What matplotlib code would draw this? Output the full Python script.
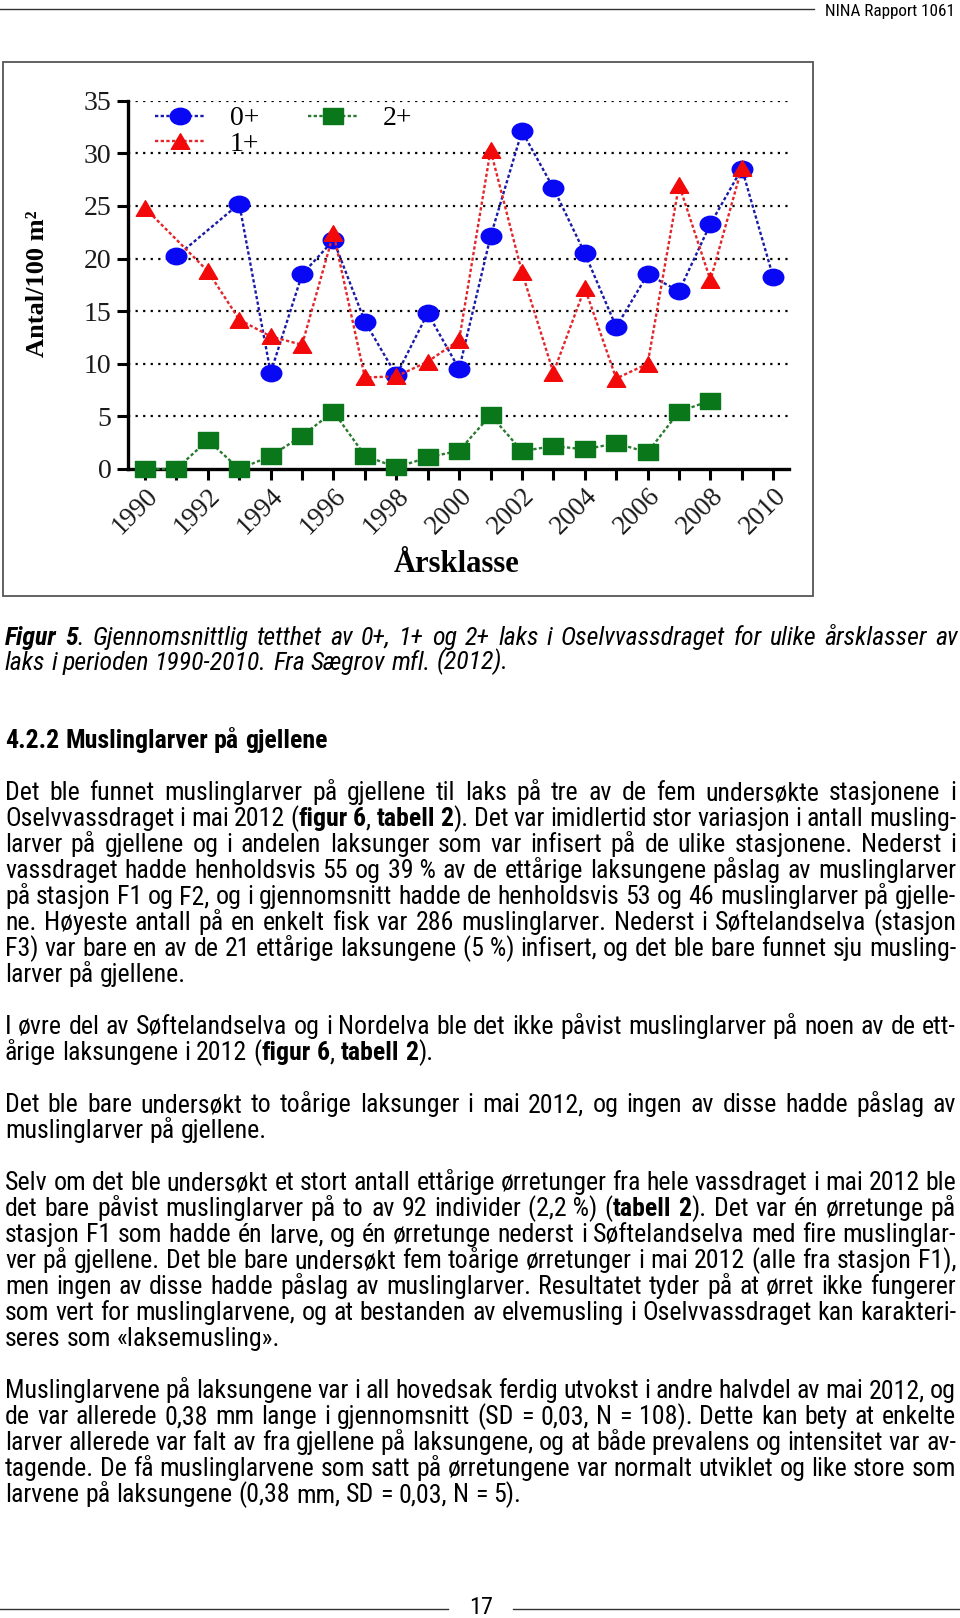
import matplotlib

matplotlib.use("Agg")
import matplotlib.pyplot as plt
from matplotlib import font_manager
from matplotlib.patches import Rectangle
from matplotlib.path import Path
from matplotlib.transforms import Affine2D

W, H = 960, 1618

# ---- chart data ----
years_0 = [1991, 1993, 1994, 1995, 1996, 1997, 1998, 1999, 2000, 2001,
           2002, 2003, 2004, 2005, 2006, 2007, 2008, 2009, 2010]
dens_0 = [20.2, 25.2, 9.15, 18.5, 21.75, 14.0, 8.9, 14.8, 9.5, 22.1,
          32.1, 26.7, 20.5, 13.5, 18.5, 16.9, 23.3, 28.55, 18.2]

years_1 = [1990, 1992, 1993, 1994, 1995, 1996, 1997, 1998, 1999, 2000,
           2001, 2002, 2003, 2004, 2005, 2006, 2007, 2008, 2009]
dens_1 = [24.8, 18.8, 14.2, 12.6, 11.8, 22.4, 8.7, 8.8, 10.2, 12.25,
          30.3, 18.7, 9.15, 17.2, 8.6, 10.0, 27.0, 17.95, 28.65]

years_2 = [1990, 1991, 1992, 1993, 1994, 1995, 1996, 1997, 1998, 1999,
           2000, 2001, 2002, 2003, 2004, 2005, 2006, 2007, 2008]
dens_2 = [0.0, 0.0, 2.75, 0.0, 1.23, 3.16, 5.45, 1.27, 0.15, 1.1,
          1.74, 5.13, 1.7, 2.18, 1.87, 2.44, 1.58, 5.45, 6.5]

yticks = [0, 5, 10, 15, 20, 25, 30, 35]
label_years = [1990, 1992, 1994, 1996, 1998, 2000, 2002, 2004, 2006, 2008, 2010]
minor_years = [1991, 1993, 1995, 1997, 1999, 2001, 2003, 2005, 2007, 2009]

# ---- page text ----
header = "NINA Rapport 1061"
page_no = "17"
caption = [
    "**Figur 5**. Gjennomsnittlig tetthet av 0+, 1+ og 2+ laks i Oselvvassdraget for ulike årsklasser av",
    "laks i perioden 1990-2010. Fra Sægrov mfl. (2012).",
]
section = "4.2.2  Muslinglarver på gjellene"
paragraphs = [
    [
        "Det ble funnet muslinglarver på gjellene til laks på tre av de fem undersøkte stasjonene i",
        "Oselvvassdraget i mai 2012 (**figur 6**, **tabell 2**). Det var imidlertid stor variasjon i antall musling-",
        "larver på gjellene og i andelen laksunger som var infisert på de ulike stasjonene. Nederst i",
        "vassdraget hadde henholdsvis 55 og 39\u00a0% av de ettårige laksungene påslag av muslinglarver",
        "på stasjon F1 og F2, og i gjennomsnitt hadde de henholdsvis 53 og 46 muslinglarver på gjelle-",
        "ne. Høyeste antall på en enkelt fisk var 286 muslinglarver. Nederst i Søftelandselva (stasjon",
        "F3) var bare en av de 21 ettårige laksungene (5\u00a0%) infisert, og det ble bare funnet sju musling-",
        "larver på gjellene.",
    ],
    [
        "I øvre del av Søftelandselva og i Nordelva ble det ikke påvist muslinglarver på noen av de ett-",
        "årige laksungene i 2012 (**figur 6**, **tabell 2**).",
    ],
    [
        "Det ble bare undersøkt to toårige laksunger i mai 2012, og ingen av disse hadde påslag av",
        "muslinglarver på gjellene.",
    ],
    [
        "Selv om det ble undersøkt et stort antall ettårige ørretunger fra hele vassdraget i mai 2012 ble",
        "det bare påvist muslinglarver på to av 92 individer (2,2\u00a0%) (**tabell 2**). Det var én ørretunge på",
        "stasjon F1 som hadde én larve, og én ørretunge nederst i Søftelandselva med fire muslinglar-",
        "ver på gjellene. Det ble bare undersøkt fem toårige ørretunger i mai 2012 (alle fra stasjon F1),",
        "men ingen av disse hadde påslag av muslinglarver. Resultatet tyder på at ørret ikke fungerer",
        "som vert for muslinglarvene, og at bestanden av elvemusling i Oselvvassdraget kan karakteri-",
        "seres som «laksemusling».",
    ],
    [
        "Muslinglarvene på laksungene var i all hovedsak ferdig utvokst i andre halvdel av mai 2012, og",
        "de var allerede 0,38 mm lange i gjennomsnitt (SD = 0,03, N = 108). Dette kan bety at enkelte",
        "larver allerede var falt av fra gjellene på laksungene, og at både prevalens og intensitet var av-",
        "tagende. De få muslinglarvene som satt på ørretungene var normalt utviklet og like store som",
        "larvene på laksungene (0,38 mm, SD = 0,03, N = 5).",
    ],
]


def pick_font(names):
    for n in names:
        try:
            font_manager.findfont(font_manager.FontProperties(family=n),
                                  fallback_to_default=False)
            return n
        except ValueError:
            pass
    return "DejaVu Sans"


SANS = pick_font(["Liberation Sans Narrow", "Roboto Condensed", "Liberation Sans"])
SERIF = pick_font(["Liberation Serif", "DejaVu Serif"])
plt.rcParams["font.family"] = SERIF

fig = plt.figure(figsize=(W / 100, H / 100), dpi=100)
page = fig.add_axes([0, 0, 1, 1])
page.set_xlim(0, W)
page.set_ylim(H, 0)
page.axis("off")
renderer = fig.canvas.get_renderer()

_cache = {}


def text_width(s, size, bold=False, style="normal"):
    key = (s, size, bold, style)
    if key not in _cache:
        t = page.text(0, 0, s, family=SANS, size=size, style=style,
                      weight="bold" if bold else "normal")
        _cache[key] = t.get_window_extent(renderer).width
        t.remove()
    return _cache[key]


def space_width(size, style="normal"):
    return text_width("x x", size, style=style) - text_width("xx", size, style=style)


def parse(line):
    words = [[]]
    for i, part in enumerate(line.split("**")):
        for j, chunk in enumerate(part.split(" ")):
            if j > 0:
                words.append([])
            if chunk:
                words[-1].append((chunk, i % 2 == 1))
    return [w for w in words if w]


def draw_line(line, y, size, justify, style="normal", x0=5, x1=956):
    words = parse(line)
    widths = [[text_width(t, size, b, style) for t, b in w] for w in words]
    total = sum(sum(ws) for ws in widths)
    if justify and len(words) > 1:
        gap = (x1 - x0 - total) / (len(words) - 1)
    else:
        gap = space_width(size, style)
    x = x0
    for w, ws in zip(words, widths):
        for (t, b), tw in zip(w, ws):
            page.text(x, y, t, family=SANS, size=size, style=style,
                      weight="bold" if b else "normal", ha="left", va="baseline",
                      color="black")
            x += tw
        x += gap


# body size: the widest justified line, set as one plain string at 10 pt,
# should just fill the 951 px column
justified = [ln.replace("**", "") for p in paragraphs for ln in p[:-1]]
body_size = round(10 * 951 / max(text_width(ln, 10) for ln in justified), 1)

# ---- header / footer ----
page.plot([0, 814], [8.5, 8.5], color="#333333", lw=1.0)
page.text(955, 15.5, header, ha="right", va="baseline", family=SANS, size=12.3)
page.plot([0, 448], [1609, 1609], color="#333333", lw=1.0)
page.plot([513, 960], [1609, 1609], color="#333333", lw=1.0)
page.text(481, 1608, page_no, ha="center", va="center", family=SANS, size=17.5)

# ---- caption, heading, paragraphs ----
draw_line(caption[0], 645, body_size, True, style="italic", x1=958)
draw_line(caption[1], 669.5, body_size, False, style="italic")
draw_line("**" + section + "**", 748, body_size, False)

row = 0
for para in paragraphs:
    for k, ln in enumerate(para):
        draw_line(ln, 800 + row * 26.0, body_size, k < len(para) - 1)
        row += 1
    row += 1

# ---- chart ----
page.add_patch(Rectangle((3, 62), 810, 534, fill=False, ec="#555555", lw=1.3))
page.text(38, 284, "Antal/100 m²", rotation=90, ha="center", va="center",
          family=SERIF, weight="bold", size=19)
page.text(457, 565, "Årsklasse", ha="center", va="center", family=SERIF,
          weight="bold", size=22)

ellipse = Path.unit_circle().transformed(Affine2D().scale(1.0, 0.8))
rect = Path([(-1, -0.8), (1, -0.8), (1, 0.8), (-1, 0.8), (-1, -0.8)], closed=True)
tri = Path([(0, 0.85), (-1, -0.85), (1, -0.85), (0, 0.85)], closed=True)

ax = fig.add_axes([128 / W, 1 - 469 / H, (789 - 128) / W, (469 - 100.7) / H])
ax.patch.set_alpha(0)
ax.set_xlim(1989.459, 2010.50)
ax.set_ylim(0, 35)

for v in yticks[1:]:
    ax.axhline(v, color="black", lw=1.6, ls=(0, (1, 2.4)), zorder=1)

dots = (0, (1.4, 1.0))
ax.plot(years_0, dens_0, ls=dots, lw=1.7, color="#1a1aa8", marker=ellipse, ms=14.8,
        mfc="#0808f5", mec="#0808f5", label="0+", clip_on=False, zorder=3)
ax.plot(years_1, dens_1, ls=dots, lw=1.7, color="#e3262b", marker=tri, ms=13.2,
        mfc="#f20a0a", mec="#f20a0a", label="1+", clip_on=False, zorder=4)
ax.plot(years_2, dens_2, ls=dots, lw=1.7, color="#2a7a30", marker=rect, ms=14.6,
        mfc="#0a781a", mec="#0a781a", label="2+", clip_on=False, zorder=5)

ax.set_yticks(yticks)
ax.set_yticklabels([str(v) for v in yticks])
ax.set_xticks(label_years)
ax.set_xticklabels([str(y) for y in label_years], rotation=45, ha="right",
                   va="top", rotation_mode="anchor")
ax.set_xticks(minor_years, minor=True)
ax.tick_params(axis="both", which="both", direction="out", length=8,
               width=2.2, color="black")
ax.tick_params(axis="y", pad=4, labelsize=20, labelcolor="#1a1a1a")
ax.tick_params(axis="x", which="major", pad=2, labelsize=19.5, labelcolor="#1a1a1a")
for side in ("top", "right"):
    ax.spines[side].set_visible(False)
for side in ("left", "bottom"):
    ax.spines[side].set_linewidth(2.4)

ax.legend(ncol=2, loc="upper left", bbox_to_anchor=(155 / W, 1 - 106 / H),
          bbox_transform=fig.transFigure, frameon=False,
          prop={"family": SERIF, "size": 20}, handlelength=1.8,
          handletextpad=0.9, columnspacing=1.75, labelspacing=0.0,
          borderpad=0, borderaxespad=0)

fig.savefig("out.png", dpi=100)
